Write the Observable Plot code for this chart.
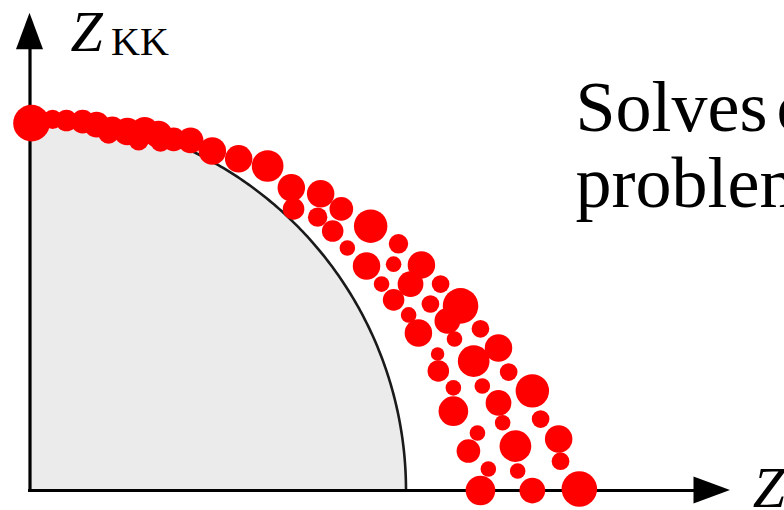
<!DOCTYPE html>
<html>
<head>
<meta charset="utf-8">
<script src="https://cdn.jsdelivr.net/npm/d3@7"></script>
<script src="https://cdn.jsdelivr.net/npm/@observablehq/plot@0.6"></script>
<style>
  html, body { margin: 0; padding: 0; background: #fff; overflow: hidden; width: 784px; height: 510px; }
  #chart svg { display: block; overflow: hidden; }
</style>
</head>
<body>
<div id="chart"></div>
<script>
// Solutions found by the solver, in units of the unit-circle bound.
const zX = [
  0.004, 0.060, 0.097, 0.140, 0.177, 0.219, 0.259, 0.305, 0.342, 0.382,
  0.427, 0.485, 0.555, 0.632, 0.695, 0.701, 0.773, 0.828, 0.765, 0.805,
  0.906, 0.980, 0.844, 0.895, 0.967, 1.041, 0.935, 1.012, 1.092, 0.967,
  1.065, 1.145, 1.110, 1.007, 1.033, 1.129, 1.198, 1.246, 1.180, 1.084,
  1.086, 1.273, 1.126, 1.203, 1.336, 1.126, 1.246, 1.358, 1.257, 1.190,
  1.291, 1.406, 1.166, 1.411, 1.219, 1.297, 1.198, 1.336, 1.461, 0.209,
  0.289, 0.347
];
const zKK = [
  0.977, 0.987, 0.984, 0.981, 0.973, 0.963, 0.955, 0.957, 0.947, 0.934,
  0.931, 0.903, 0.882, 0.863, 0.805, 0.749, 0.789, 0.749, 0.727, 0.690,
  0.703, 0.656, 0.645, 0.597, 0.602, 0.600, 0.549, 0.549, 0.549, 0.507,
  0.496, 0.491, 0.451, 0.467, 0.419, 0.403, 0.430, 0.379, 0.344, 0.363,
  0.318, 0.315, 0.273, 0.278, 0.265, 0.211, 0.233, 0.190, 0.180, 0.153,
  0.118, 0.137, 0.105, 0.078, 0.057, 0.052, 0.000, 0.000, 0.004, 0.949,
  0.931, 0.928
];
const weight = [
  1.00, 0.51, 0.57, 0.63, 0.69, 0.63, 0.74, 0.74, 0.74, 0.63,
  0.69, 0.74, 0.74, 0.86, 0.74, 0.57, 0.74, 0.63, 0.51, 0.57,
  0.91, 0.51, 0.40, 0.74, 0.40, 0.74, 0.40, 0.69, 0.46, 0.57,
  0.46, 0.97, 0.69, 0.40, 0.74, 0.40, 0.46, 0.74, 0.86, 0.34,
  0.57, 0.46, 0.40, 0.40, 0.91, 0.80, 0.69, 0.46, 0.40, 0.40,
  0.86, 0.74, 0.63, 0.46, 0.40, 0.40, 0.80, 0.69, 0.97, 0.53,
  0.53, 0.53
];

// Text labels
const yLabel = "Z";
const yLabelSub = "KK";
const xLabel = "Z";
const noteLines = ["Solves convex", "problem"];

const points = zX.map((x, i) => ({x, y: zKK[i], w: weight[i]}));

// Unit quarter circle: the region of guaranteed values
const arc = d3.range(0, 181).map(i => {
  const t = (Math.PI / 2) * (1 - i / 180);
  return {x: Math.cos(t), y: Math.sin(t)};
});

// Axis arrow tips (data units)
const xTip = 1.863, yTip = 1.269;

// Filled triangular arrowheads at the ends of both axes
function arrowHeads(index, scales) {
  const {x, y} = scales;
  const len = 36.5, half = 13.5;
  const g = d3.create("svg:g").attr("fill", "#000");
  const ox = x(0), oy = y(0);
  const ty = y(yTip), tx = x(xTip);
  g.append("path").attr("d", `M${ox},${ty}L${ox - half},${ty + len}L${ox + half},${ty + len}Z`);
  g.append("path").attr("d", `M${tx},${oy}L${tx - len},${oy - half}L${tx - len},${oy + half}Z`);
  return g.node();
}

const serif = "'Liberation Serif', 'Times New Roman', serif";

const chart = Plot.plot({
  width: 784,
  height: 510,
  margin: 0,
  style: {background: "#fff"},
  x: {domain: [0, 2], range: [29.5, 781.5], axis: null},
  y: {domain: [0, 1.3], range: [490, 1.2], axis: null},
  r: {type: "linear", domain: [0, 1], range: [0.8, 18.3]},
  marks: [
    Plot.areaY(arc, {x: "x", y: "y", fill: "#ebebeb", curve: "linear"}),
    Plot.line(arc, {x: "x", y: "y", stroke: "#1a1a1a", strokeWidth: 2.6}),
    Plot.ruleX([0], {y1: -0.004, y2: yTip - 0.05, stroke: "#000", strokeWidth: 3.2}),
    Plot.ruleY([0], {x1: -0.004, x2: xTip - 0.05, stroke: "#000", strokeWidth: 3.2}),
    arrowHeads,
    Plot.dot(points, {x: "x", y: "y", r: "w", fill: "#ff0000", stroke: "none"}),
    Plot.text([yLabel], {x: 0, y: 1.1702, dx: 40.5, text: d => d, textAnchor: "start", lineAnchor: "bottom",
      fontFamily: serif, fontStyle: "italic", fontSize: 58, fill: "#000"}),
    Plot.text([yLabelSub], {x: 0, y: 1.157, dx: 81, text: d => d, textAnchor: "start", lineAnchor: "bottom",
      fontFamily: serif, fontSize: 40, fill: "#000"}),
    Plot.text([xLabel], {x: 1.922, y: -0.045, text: d => d, textAnchor: "start", lineAnchor: "bottom",
      fontFamily: serif, fontStyle: "italic", fontSize: 58, fill: "#000"}),
    Plot.text([noteLines[0]], {x: 1.451, y: 0.957, text: d => d, textAnchor: "start", lineAnchor: "bottom",
      fontFamily: serif, fontSize: 72, fill: "#000"}),
    Plot.text([noteLines[1]], {x: 1.451, y: 0.7527, text: d => d, textAnchor: "start", lineAnchor: "bottom",
      fontFamily: serif, fontSize: 72, fill: "#000"})
  ]
});

// Tighter word spacing on the note's first line
d3.select(chart).selectAll("text")
  .filter(function() { return this.textContent === noteLines[0]; })
  .style("word-spacing", "-9px");

document.getElementById("chart").appendChild(chart);
</script>
</body>
</html>
